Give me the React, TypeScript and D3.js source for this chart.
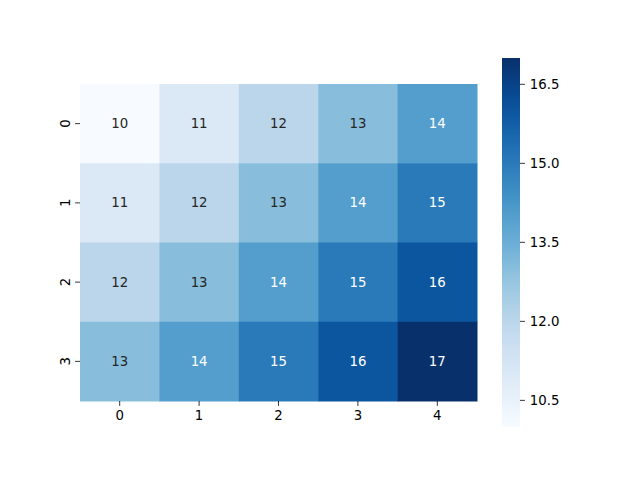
import React from 'react';
import * as d3 from 'd3';

const rowLabels = ['0', '1', '2', '3'];
const colLabels = ['0', '1', '2', '3', '4'];
const values: number[][] = [
  [10, 11, 12, 13, 14],
  [11, 12, 13, 14, 15],
  [12, 13, 14, 15, 16],
  [13, 14, 15, 16, 17],
];
const colorbarTicks = [10.5, 12, 13.5, 15, 16.5];

// matplotlib "Blues" anchors (ColorBrewer 9-class)
const bluesStops = ['#f7fbff', '#deebf7', '#c6dbef', '#9ecae1', '#6baed6', '#4292c6', '#2171b5', '#08519c', '#08306b'];

const W = 640;
const H = 480;
const plot = { left: 80, right: 477, top: 84, bottom: 401 };
const cbar = { left: 502, right: 520, top: 58, bottom: 426.7 };
const font = 'DejaVu Sans, sans-serif';

const App: React.FC = () => {
  const flat = values.flat();
  const vmin = d3.min(flat) as number;
  const vmax = d3.max(flat) as number;

  const blues = d3.piecewise(d3.interpolateRgb, bluesStops);
  const color = (v: number) => blues((v - vmin) / (vmax - vmin));

  const x = d3.scaleBand<string>().domain(colLabels).range([plot.left, plot.right]);
  const y = d3.scaleBand<string>().domain(rowLabels).range([plot.top, plot.bottom]);
  const cy = d3.scaleLinear().domain([vmin, vmax]).range([cbar.bottom, cbar.top]);

  const textColor = (v: number) => {
    const c = d3.rgb(color(v));
    const lin = (u: number) => {
      const s = u / 255;
      return s <= 0.03928 ? s / 12.92 : Math.pow((s + 0.055) / 1.055, 2.4);
    };
    const lum = 0.2126 * lin(c.r) + 0.7152 * lin(c.g) + 0.0722 * lin(c.b);
    return lum > 0.408 ? '#262626' : '#ffffff';
  };

  const gradStops = d3.range(0, 1.0001, 0.05);

  return (
    <svg width={W} height={H} style={{ display: 'block', margin: -8 }} fontFamily={font}>
      <defs>
        <linearGradient id="cbar" x1="0" y1="1" x2="0" y2="0">
          {gradStops.map((t) => (
            <stop key={t} offset={t} stopColor={blues(t)} />
          ))}
        </linearGradient>
      </defs>
      <rect width={W} height={H} fill="#fff" />

      {/* cells */}
      {values.map((row, i) =>
        row.map((v, j) => (
          <g key={`${i}-${j}`}>
            <rect
              x={x(colLabels[j])}
              y={y(rowLabels[i])}
              width={x.bandwidth() + 0.5}
              height={y.bandwidth() + 0.5}
              fill={color(v)}
            />
            <text
              x={(x(colLabels[j]) as number) + x.bandwidth() / 2}
              y={(y(rowLabels[i]) as number) + y.bandwidth() / 2}
              textAnchor="middle"
              dominantBaseline="central"
              fontSize={13.3}
              fill={textColor(v)}
            >
              {v}
            </text>
          </g>
        ))
      )}

      {/* x axis */}
      {colLabels.map((c) => {
        const cx = (x(c) as number) + x.bandwidth() / 2;
        return (
          <g key={`x${c}`}>
            <line x1={cx} x2={cx} y1={plot.bottom} y2={plot.bottom + 4.9} stroke="#000" strokeWidth={0.8} />
            <text x={cx} y={plot.bottom + 9.8} textAnchor="middle" dominantBaseline="hanging" fontSize={13.3} fill="#000">
              {c}
            </text>
          </g>
        );
      })}

      {/* y axis */}
      {rowLabels.map((r) => {
        const ry = (y(r) as number) + y.bandwidth() / 2;
        return (
          <g key={`y${r}`}>
            <line x1={plot.left - 4.9} x2={plot.left} y1={ry} y2={ry} stroke="#000" strokeWidth={0.8} />
            <text
              transform={`translate(${plot.left - 9.8},${ry}) rotate(-90)`}
              textAnchor="middle"
              dominantBaseline="auto"
              fontSize={13.3}
              fill="#000"
            >
              {r}
            </text>
          </g>
        );
      })}

      {/* colorbar */}
      <rect
        x={cbar.left}
        y={cbar.top}
        width={cbar.right - cbar.left}
        height={cbar.bottom - cbar.top}
        fill="url(#cbar)"
      />
      {colorbarTicks.map((t) => (
        <g key={`c${t}`}>
          <line x1={cbar.right} x2={cbar.right + 4.9} y1={cy(t)} y2={cy(t)} stroke="#000" strokeWidth={0.8} />
          <text x={cbar.right + 9.8} y={cy(t)} dominantBaseline="central" fontSize={13.3} fill="#000">
            {t.toFixed(1)}
          </text>
        </g>
      ))}
    </svg>
  );
};

export default App;
